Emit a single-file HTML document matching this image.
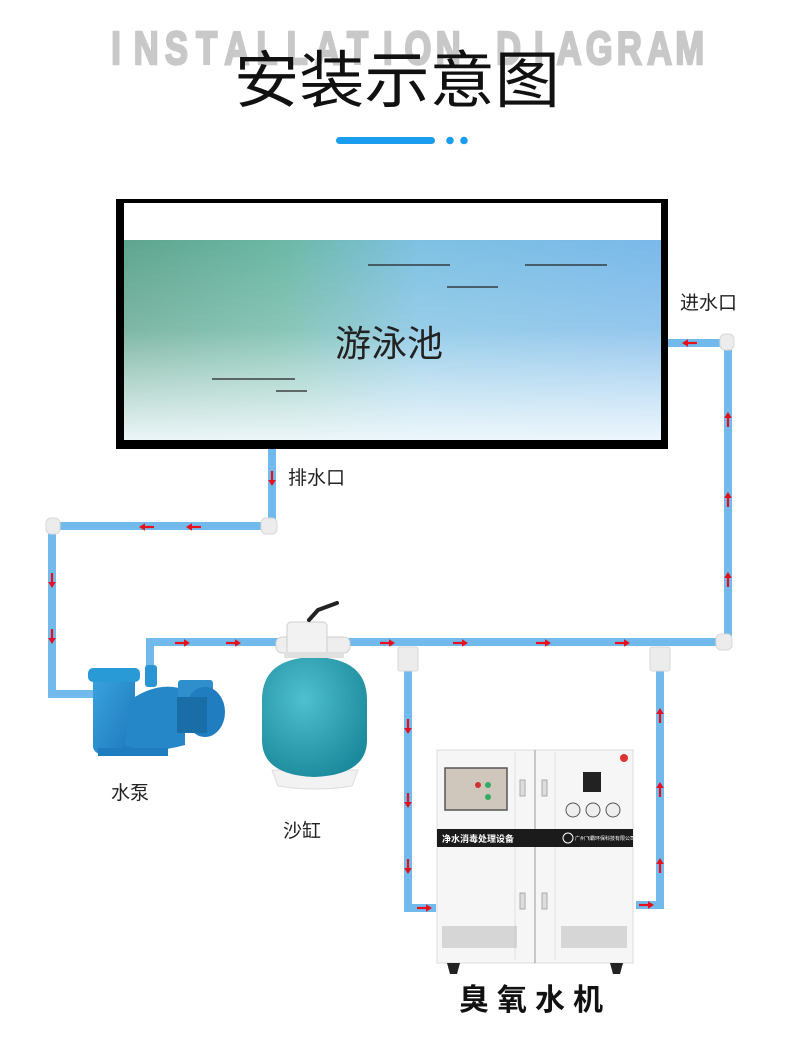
<!DOCTYPE html>
<html><head><meta charset="utf-8"><style>
html,body{margin:0;padding:0;background:#fff}
svg{display:block}
.cj{font-family:"Liberation Sans","Noto Sans CJK SC",sans-serif}
</style></head><body>
<svg width="800" height="1052" viewBox="0 0 800 1052" xmlns="http://www.w3.org/2000/svg">
<defs>
<linearGradient id="wh" x1="0" y1="0" x2="1" y2="0">
<stop offset="0" stop-color="#5ea58e"/><stop offset="0.3" stop-color="#6cb8a6"/><stop offset="0.55" stop-color="#7ec1e3"/><stop offset="1" stop-color="#7ab9ea"/>
</linearGradient>
<linearGradient id="wv" x1="0" y1="0" x2="0" y2="1">
<stop offset="0" stop-color="#fff" stop-opacity="0"/><stop offset="0.45" stop-color="#fff" stop-opacity="0.2"/><stop offset="1" stop-color="#f2f9fd" stop-opacity="0.95"/>
</linearGradient>
<radialGradient id="tank" cx="0.4" cy="0.35" r="0.7"><stop offset="0" stop-color="#4fc0cf"/><stop offset="1" stop-color="#1b8a9c"/></radialGradient>
<linearGradient id="pump" x1="0" y1="0" x2="1" y2="1"><stop offset="0" stop-color="#3aa4e0"/><stop offset="1" stop-color="#1d78bb"/></linearGradient>
<g id="ar"><path d="M-7 0H3" stroke="#e8101c" stroke-width="2.2"/><path d="M8 0L2 -3.8V3.8Z" fill="#e8101c"/></g>
</defs>

<!-- header -->
<g transform="scale(0.75,1)" font-family="Liberation Sans,sans-serif" font-weight="bold" font-size="46" fill="#c8c8c8" stroke="#c8c8c8" stroke-width="2.5" text-anchor="middle">
<text x="154.7" y="64">I</text><text x="194.9" y="64">N</text><text x="235.2" y="64">S</text><text x="275.5" y="64">T</text><text x="315.7" y="64">A</text><text x="356" y="64">L</text><text x="396.3" y="64">L</text><text x="436.5" y="64">A</text><text x="476.8" y="64">T</text><text x="517.1" y="64">I</text><text x="557.3" y="64">O</text><text x="597.6" y="64">N</text>
<text x="678.1" y="64">D</text><text x="718.4" y="64">I</text><text x="758.7" y="64">A</text><text x="798.9" y="64">G</text><text x="839.2" y="64">R</text><text x="879.5" y="64">A</text><text x="919.7" y="64">M</text>
</g>
<text x="234" y="102" class="cj" font-size="62" fill="#111" textLength="326" lengthAdjust="spacingAndGlyphs">安装示意图</text>
<rect x="336" y="137" width="99" height="7" rx="3.5" fill="#1a9df0"/>
<circle cx="450" cy="140.5" r="3.8" fill="#1a9df0"/><circle cx="464" cy="140.5" r="3.8" fill="#1a9df0"/>

<!-- pool -->
<rect x="116" y="199" width="552" height="250" fill="#000"/>
<rect x="124" y="203" width="537" height="237" fill="#fff"/>
<rect x="124" y="240" width="537" height="200" fill="url(#wh)"/>
<rect x="124" y="240" width="537" height="200" fill="url(#wv)"/>
<g stroke="#222" stroke-width="1.3">
<line x1="368" y1="265" x2="450" y2="265"/><line x1="525" y1="265" x2="607" y2="265"/><line x1="447" y1="287" x2="498" y2="287"/>
<line x1="212" y1="379" x2="295" y2="379"/><line x1="276" y1="391" x2="307" y2="391"/></g>
<text x="389" y="356" text-anchor="middle" class="cj" font-size="36" fill="#222">游泳池</text>

<!-- pipes -->
<g fill="none" stroke="#72b9ec" stroke-width="8">
<path d="M272 449V526H52V694H95"/>
<path d="M150 670V642H728V343H668"/>
<path d="M408 655V908H436"/>
<path d="M636 905H660V655"/>
</g>
<!-- elbows -->
<g fill="#ececec" stroke="#d8d8d8" stroke-width="1">
<rect x="46" y="518" width="14" height="16" rx="5"/>
<rect x="261" y="518" width="16" height="16" rx="5"/>
<rect x="720" y="334" width="14" height="16" rx="5"/>
<rect x="716" y="634" width="16" height="16" rx="5"/>
<rect x="398" y="647" width="20" height="24" rx="2"/>
<rect x="650" y="647" width="20" height="24" rx="2"/>
</g>

<!-- arrows -->
<use href="#ar" transform="translate(272,478) rotate(90)"/>
<use href="#ar" transform="translate(147,527) rotate(180)"/>
<use href="#ar" transform="translate(194,527) rotate(180)"/>
<use href="#ar" transform="translate(52,580) rotate(90)"/>
<use href="#ar" transform="translate(52,636) rotate(90)"/>
<use href="#ar" transform="translate(182,643)"/>
<use href="#ar" transform="translate(233,643)"/>
<use href="#ar" transform="translate(387,643)"/>
<use href="#ar" transform="translate(460,643)"/>
<use href="#ar" transform="translate(543,643)"/>
<use href="#ar" transform="translate(622,643)"/>
<use href="#ar" transform="translate(728,580) rotate(-90)"/>
<use href="#ar" transform="translate(728,500) rotate(-90)"/>
<use href="#ar" transform="translate(728,420) rotate(-90)"/>
<use href="#ar" transform="translate(690,343) rotate(180)"/>
<use href="#ar" transform="translate(408,726) rotate(90)"/>
<use href="#ar" transform="translate(408,800) rotate(90)"/>
<use href="#ar" transform="translate(408,866) rotate(90)"/>
<use href="#ar" transform="translate(424,908)"/>
<use href="#ar" transform="translate(646,905)"/>
<use href="#ar" transform="translate(660,866) rotate(-90)"/>
<use href="#ar" transform="translate(660,790) rotate(-90)"/>
<use href="#ar" transform="translate(660,716) rotate(-90)"/>

<!-- labels -->
<g class="cj" font-size="19" fill="#222">
<text x="680" y="309">进水口</text>
<text x="288" y="484">排水口</text>
<text x="111" y="799">水泵</text>
<text x="283" y="837">沙缸</text>
</g>
<text x="459" y="1010" class="cj" font-size="30" font-weight="bold" fill="#111" letter-spacing="8">臭氧水机</text>

<!-- pump -->
<g>
<rect x="93" y="672" width="42" height="82" rx="8" fill="url(#pump)"/>
<rect x="88" y="668" width="52" height="14" rx="5" fill="#2a9ad6"/>
<rect x="145" y="665" width="12" height="22" rx="3" fill="#2a95d3"/>
<path d="M130 700 Q160 680 185 690 L185 745 Q150 755 125 745Z" fill="#2586c8"/>
<rect x="178" y="680" width="35" height="20" rx="3" fill="#2e8fcc"/>
<ellipse cx="205" cy="712" rx="20" ry="25" fill="#1f7dc0"/>
<rect x="177" y="697" width="30" height="36" fill="#1a6ea8"/>
<rect x="98" y="748" width="70" height="8" fill="#1f7cbf"/>
</g>

<!-- sand filter -->
<g>
<path d="M272 770 L358 770 L352 786 Q315 792 278 786Z" fill="#f2f2f2" stroke="#ddd"/>
<path d="M262 700 Q262 658 314 657 Q367 658 367 700 L367 740 Q367 775 314 777 Q262 775 262 740Z" fill="url(#tank)"/>
<rect x="276" y="637" width="74" height="16" rx="6" fill="#eeeeee" stroke="#d0d0d0"/>
<rect x="287" y="622" width="40" height="34" rx="4" fill="#f2f2f2" stroke="#cfcfcf"/>
<path d="M309 620 L318 610 L337 603" stroke="#222" stroke-width="4" fill="none" stroke-linecap="round"/>
<rect x="284" y="652" width="60" height="6" fill="#e0e0e0"/>
</g>

<!-- machine -->
<g>
<rect x="437" y="750" width="196" height="213" fill="#f6f6f6" stroke="#dcdcdc"/>
<line x1="535" y1="750" x2="535" y2="963" stroke="#999" stroke-width="1"/>
<line x1="515" y1="752" x2="515" y2="960" stroke="#e0e0e0"/>
<line x1="555" y1="752" x2="555" y2="960" stroke="#e0e0e0"/>
<rect x="445" y="768" width="62" height="42" fill="#cfc7bb" stroke="#555" stroke-width="1.5"/>
<circle cx="478" cy="785" r="3" fill="#c33"/><circle cx="488" cy="785" r="3" fill="#3a6"/><circle cx="488" cy="797" r="3" fill="#3a6"/>
<rect x="583" y="772" width="18" height="20" fill="#222"/>
<circle cx="573" cy="810" r="7" fill="#eee" stroke="#555"/><circle cx="593" cy="810" r="7" fill="#eee" stroke="#555"/><circle cx="613" cy="810" r="7" fill="#eee" stroke="#555"/>
<circle cx="624" cy="758" r="4" fill="#d33"/>
<rect x="437" y="829" width="196" height="18" fill="#1b1b1b"/>
<text x="442" y="842" class="cj" font-size="9" font-weight="bold" fill="#fff">净水消毒处理设备</text>
<text x="575" y="840" class="cj" font-size="5" fill="#fff">广州飞霸环保科技有限公司</text>
<circle cx="568" cy="838" r="5" fill="none" stroke="#fff"/>
<rect x="442" y="926" width="75" height="22" fill="#bbb" opacity="0.55"/>
<rect x="561" y="926" width="66" height="22" fill="#bbb" opacity="0.55"/>
<rect x="520" y="780" width="5" height="16" fill="#ddd" stroke="#aaa"/><rect x="542" y="780" width="5" height="16" fill="#ddd" stroke="#aaa"/>
<rect x="520" y="893" width="5" height="16" fill="#ddd" stroke="#aaa"/><rect x="542" y="893" width="5" height="16" fill="#ddd" stroke="#aaa"/>
<path d="M447 963H460L457 974H450Z" fill="#222"/><path d="M610 963H623L620 974H613Z" fill="#222"/>
</g>
</svg>
</body></html>
